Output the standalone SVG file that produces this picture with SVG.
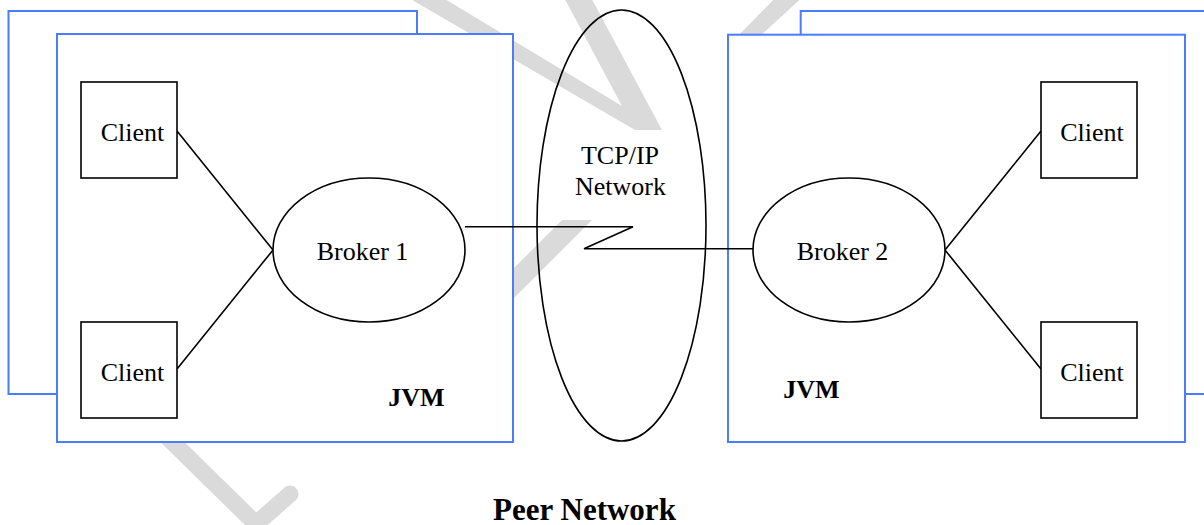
<svg xmlns="http://www.w3.org/2000/svg" width="1204" height="525" viewBox="0 0 1204 525">
  <style>
    .mark { fill: #dadada; stroke: none; }
    .markline { fill: none; stroke: #dadada; stroke-width: 17; stroke-linecap: round; stroke-linejoin: round; }
    .jvm { fill: #ffffff; stroke: #4a7cff; stroke-width: 2; }
    .box { fill: #ffffff; stroke: #000000; stroke-width: 1.6; }
    .oval { fill: #ffffff; stroke: #000000; stroke-width: 1.6; }
    .net { fill: none; stroke: #000000; stroke-width: 1.6; }
    .wire { fill: none; stroke: #000000; stroke-width: 1.6; }
    text { font-family: 'Liberation Serif', 'DejaVu Serif', serif; font-size: 26px; fill: #000000; text-anchor: middle; }
    .bold { font-weight: bold; }
  </style>

  <rect width="1204" height="525" fill="#ffffff"/>

  <!-- light grey background mark -->
  <g id="background-mark">
    <polygon class="mark" points="395,-10 635,130 662,130 587,-10 560,-10 622,106 430,-10"/>
    <polygon class="mark" points="562,220 592,220 470,342 440,342"/>
    <polygon class="mark" points="778,-5 805,-5 758,38 736,38"/>
    <polyline class="markline" points="150,420 256,524 290,494"/>
  </g>

  <!-- left JVM stack -->
  <g id="jvm-left">
    <rect class="jvm" x="8.5" y="11" width="408.5" height="383"/>
    <rect class="jvm" x="57" y="34" width="456" height="408"/>
    <text class="bold" x="416.5" y="406" font-family="Liberation Serif, DejaVu Serif, serif">JVM</text>
  </g>

  <!-- right JVM stack -->
  <g id="jvm-right">
    <rect class="jvm" x="800.7" y="11" width="420" height="383"/>
    <rect class="jvm" x="728" y="34.7" width="457" height="407.3"/>
    <text class="bold" x="811.5" y="398" font-family="Liberation Serif, DejaVu Serif, serif">JVM</text>
  </g>

  <!-- TCP/IP cloud -->
  <g id="tcpip-network">
    <ellipse class="net" cx="621.5" cy="225.5" rx="84.5" ry="215.5"/>
    <text x="620" y="164" font-family="Liberation Serif, DejaVu Serif, serif">TCP/IP</text>
    <text x="620.5" y="195" font-family="Liberation Serif, DejaVu Serif, serif">Network</text>
  </g>

  <!-- connectors -->
  <g id="connectors">
    <line class="wire" x1="177" y1="131" x2="273" y2="250"/>
    <line class="wire" x1="177" y1="369" x2="273" y2="250"/>
    <line class="wire" x1="945" y1="250" x2="1041" y2="131"/>
    <line class="wire" x1="945" y1="250" x2="1041" y2="369"/>
    <polyline class="wire" points="465,226.7 633,226.7 584,248.7 753,248.7"/>
  </g>

  <!-- brokers -->
  <g id="broker-1">
    <ellipse class="oval" cx="369" cy="250" rx="96" ry="72"/>
    <text x="362.5" y="260" font-family="Liberation Serif, DejaVu Serif, serif">Broker 1</text>
  </g>
  <g id="broker-2">
    <ellipse class="oval" cx="849" cy="250" rx="96" ry="72"/>
    <text x="842.5" y="260" font-family="Liberation Serif, DejaVu Serif, serif">Broker 2</text>
  </g>

  <!-- clients -->
  <g id="client-left-top">
    <rect class="box" x="81" y="82" width="96" height="96"/>
    <text x="132.5" y="141" font-family="Liberation Serif, DejaVu Serif, serif">Client</text>
  </g>
  <g id="client-left-bottom">
    <rect class="box" x="81" y="322" width="96" height="96"/>
    <text x="132.5" y="380.7" font-family="Liberation Serif, DejaVu Serif, serif">Client</text>
  </g>
  <g id="client-right-top">
    <rect class="box" x="1041" y="82" width="96" height="96"/>
    <text x="1092" y="141" font-family="Liberation Serif, DejaVu Serif, serif">Client</text>
  </g>
  <g id="client-right-bottom">
    <rect class="box" x="1041" y="322" width="96" height="96"/>
    <text x="1092" y="380.7" font-family="Liberation Serif, DejaVu Serif, serif">Client</text>
  </g>

  <!-- caption -->
  <g id="caption">
    <text class="bold" x="584.5" y="520" font-size="31" style="font-size:31px" font-family="Liberation Serif, DejaVu Serif, serif">Peer Network</text>
  </g>
</svg>
